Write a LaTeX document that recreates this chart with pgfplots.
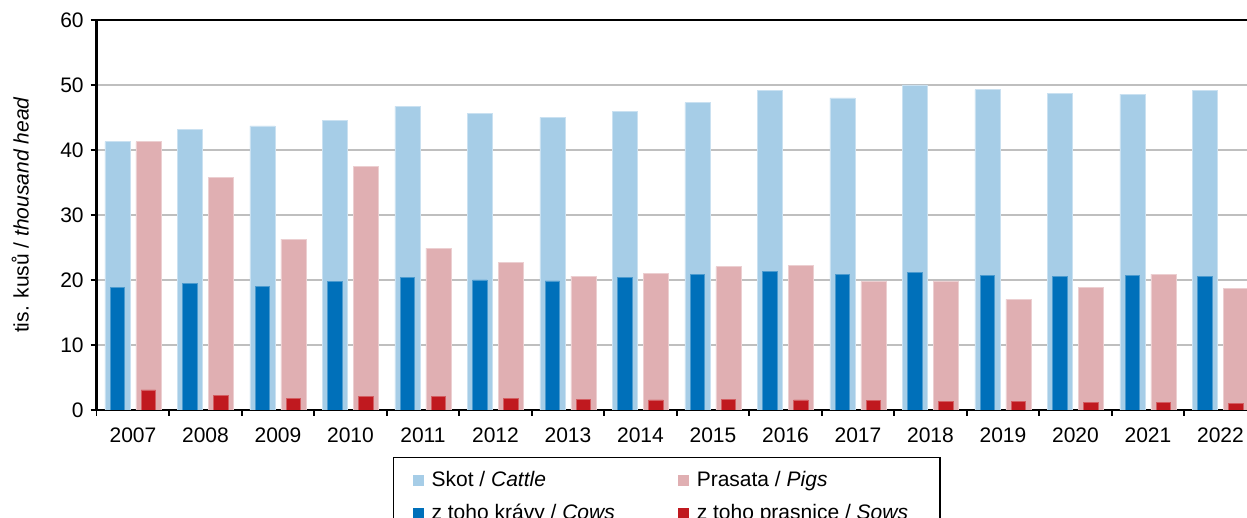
\documentclass[border=0pt]{standalone}
\usepackage{pgfplots}
\pgfplotsset{compat=1.18}
\usepackage{fontspec}
\setmainfont{Liberation Sans}

\definecolor{skot}{RGB}{166,205,231}
\definecolor{prasata}{RGB}{224,175,178}
\definecolor{kravy}{RGB}{0,112,186}
\definecolor{prasnice}{RGB}{192,25,31}

\begin{document}
\begin{tikzpicture}
\begin{axis}[
    width=580pt, height=195pt, scale only axis,
    xmin=-0.5, xmax=15.5, ymin=0, ymax=60,
    ytick={0,10,...,60},
    xtick={0,...,15},
    xticklabels={2007,2008,2009,2010,2011,2012,2013,2014,2015,2016,2017,2018,2019,2020,2021,2022},
    major x tick style={draw=none},
    minor xtick={-0.5,0.5,...,15.5},
    tick align=outside,
    xtick pos=bottom, ytick pos=left,
    major tick length=3pt, minor tick length=3pt,
    tick style={black, line width=0.8pt},
    ymajorgrids, grid style={black!25, line width=0.7pt},
    axis line style={line width=1.2pt},
    ticklabel style={font=\fontsize{10.5}{12}\selectfont},
    xticklabel style={yshift=-2.5pt},
    /pgf/number format/assume math mode=true,
    ylabel={tis. kusů / \textit{thousand head}},
    ylabel style={at={(axis description cs:-0.066,0.5)}, anchor=center, font=\fontsize{10.5}{12}\selectfont},
    legend style={at={(axis description cs:0.2554,-0.1205)}, anchor=north west,
        legend columns=2, draw=black, line width=0.6pt,
        inner xsep=9.5pt, inner ysep=5pt, row sep=3pt,
        font=\fontsize{10.5}{12}\selectfont,
        /tikz/column 1/.style={column sep=2pt},
        /tikz/column 2/.style={column sep=29.5pt},
        /tikz/column 3/.style={column sep=2pt}},
    legend cell align=left,
    legend image code/.code={\fill[#1,draw=none] (0pt,-2.75pt) rectangle (5.5pt,2.75pt);},
]
\addplot[ybar, bar width=0.345, bar shift=-0.214, fill=skot, draw=skot!60!white, line width=0.4pt] coordinates {
    (0,41.3) (1,43.2) (2,43.7) (3,44.5) (4,46.7) (5,45.6) (6,45.0) (7,45.9)
    (8,47.3) (9,49.1) (10,48.0) (11,50.0) (12,49.3) (13,48.7) (14,48.6) (15,49.1)
};
\addlegendentry{Skot / \textit{Cattle}}
\addplot[ybar, bar width=0.345, bar shift=0.214, fill=prasata, draw=prasata!60!white, line width=0.4pt] coordinates {
    (0,41.3) (1,35.8) (2,26.3) (3,37.4) (4,24.9) (5,22.7) (6,20.6) (7,21.0)
    (8,22.05) (9,22.25) (10,19.75) (11,19.85) (12,17.0) (13,18.9) (14,20.9) (15,18.7)
};
\addlegendentry{Prasata / \textit{Pigs}}
\addplot[ybar, bar width=0.2, bar shift=-0.214, fill=kravy, draw=kravy!70!white, line width=0.4pt] coordinates {
    (0,18.8) (1,19.4) (2,19.0) (3,19.8) (4,20.4) (5,20.0) (6,19.85) (7,20.46)
    (8,20.9) (9,21.3) (10,20.9) (11,21.2) (12,20.7) (13,20.5) (14,20.7) (15,20.6)
};
\addlegendentry{z toho krávy / \textit{Cows}}
\addplot[ybar, bar width=0.2, bar shift=0.214, fill=prasnice, draw=prasnice!70!white, line width=0.4pt] coordinates {
    (0,3.08) (1,2.3) (2,1.8) (3,2.1) (4,2.1) (5,1.8) (6,1.64) (7,1.54)
    (8,1.69) (9,1.54) (10,1.44) (11,1.38) (12,1.38) (13,1.23) (14,1.23) (15,1.03)
};
\addlegendentry{z toho prasnice / \textit{Sows}\hspace*{4.5pt}}
\end{axis}
\pgfresetboundingbox
\useasboundingbox (-48.35pt,-54pt) rectangle (575.15pt,205pt);
\end{tikzpicture}
\end{document}
